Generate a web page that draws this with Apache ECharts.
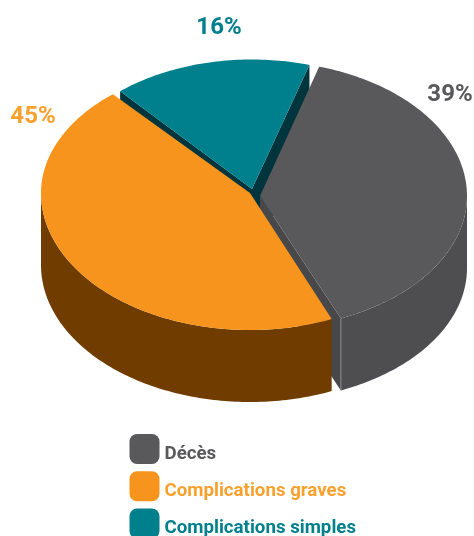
<!DOCTYPE html>
<html>
<head>
<meta charset="utf-8">
<style>html,body{margin:0;padding:0;background:#fff}#chart{width:474px;height:536px}</style>
<script src="https://cdn.jsdelivr.net/npm/echarts@6/dist/echarts.min.js"></script>
</head>
<body>
<div id="chart"></div>
<script>
// Outcome shares, in percent, clockwise from the first slice.
const categories = ['Décès', 'Complications graves', 'Complications simples'];
const shares = [39, 45, 16];
const topColors = ['#59595b', '#f7941d', '#007f8c'];
const wallColors = ['#4e4e50', '#703c00', '#00353d'];
const labelColors = ['#59595b', '#f9a12f', '#007f8c'];

const START_DEG = 16.6;
const DEPTH = 72;

// Ellipse of each exploded slice (the far half is flatter than the near half)
// and where its percentage sits.
const geometry = {
  'Décès':                 { cx: 260, cy: 196, rx: 207, ryFar: 135, ryNear: 133, lx: 450, ly: 95,  faces: ['end'] },
  'Complications graves':  { cx: 250, cy: 193, rx: 209, ryFar: 131, ryNear: 137, lx: 33,  ly: 117, faces: [] },
  'Complications simples': { cx: 252, cy: 189, rx: 201, ryFar: 129.5, ryNear: 129.5, lx: 219, ly: 28, faces: ['start', 'end'] }
};

function arcPoint(g, deg, drop) {
  const t = deg * Math.PI / 180;
  const c = Math.cos(t);
  return [g.cx + g.rx * Math.sin(t), g.cy - (c > 0 ? g.ryFar : g.ryNear) * c + (drop || 0)];
}

function arcPoints(g, from, to, drop) {
  const pts = [];
  const n = Math.max(2, Math.ceil(Math.abs(to - from)));
  for (let i = 0; i <= n; i++) pts.push(arcPoint(g, from + (to - from) * i / n, drop));
  return pts;
}

// Angular range of each slice, derived from the shares.
const total = shares.reduce(function (a, b) { return a + b; }, 0);
const ranges = [];
shares.reduce(function (acc, v) {
  const span = v / total * 360;
  ranges.push([acc, acc + span]);
  return acc + span;
}, START_DEG);

function drawSlice(index) {
  return function () {
    const name = categories[index];
    const g = geometry[name];
    const from = ranges[index][0], to = ranges[index][1];
    const children = [];
    const wall = { fill: wallColors[index] };

    // Radial cut faces, seen through the gaps between slices.
    g.faces.forEach(function (f) {
      const p = arcPoint(g, f === 'start' ? from : to);
      children.push({
        type: 'polygon',
        shape: { points: [[g.cx, g.cy], p, [p[0], p[1] + DEPTH], [g.cx, g.cy + DEPTH]] },
        style: index === 0 ? { fill: '#48484a' } : wall
      });
    });

    // Outer rim: only the front half of the ellipse faces the viewer.
    [[90, 270], [450, 630]].forEach(function (front) {
      const a = Math.max(from, front[0]), b = Math.min(to, front[1]);
      if (a < b) {
        const upper = arcPoints(g, a, b, 0);
        const lower = arcPoints(g, b, a, DEPTH);
        children.push({ type: 'polygon', shape: { points: upper.concat(lower) }, style: wall });
      }
    });

    // Pale ridge down the leading corner of the grey rim.
    if (index === 0) {
      const p = arcPoint(g, to);
      children.push({
        type: 'line',
        shape: { x1: p[0], y1: p[1], x2: p[0], y2: p[1] + DEPTH },
        style: { stroke: '#8a8a8c', lineWidth: 1 }
      });
    }

    // Top face.
    children.push({
      type: 'polygon',
      shape: { points: [[g.cx, g.cy]].concat(arcPoints(g, from, to, 0)) },
      style: { fill: topColors[index] }
    });

    // Percentage label.
    children.push({
      type: 'text',
      x: g.lx, y: g.ly,
      style: {
        text: shares[index] + '%',
        fill: labelColors[index],
        font: '700 24px Roboto',
        align: 'center',
        verticalAlign: 'middle'
      }
    });

    return { type: 'group', children: children };
  };
}

// Painted back to front: teal, then grey, then orange.
const paintOrder = [2, 0, 1];

// Rich-text style per legend entry; the top padding nudges the text below the swatch centre.
const legendRich = {};
categories.forEach(function (name, i) {
  legendRich['c' + i] = {
    color: labelColors[i],
    fontFamily: 'Roboto',
    fontWeight: 700,
    fontSize: 18.7,
    padding: [10, 0, 0, 0]
  };
});

const chart = echarts.init(document.getElementById('chart'));
chart.setOption({
  animation: false,
  legend: {
    left: 129.5,
    top: 434,
    height: 200,
    padding: 0,
    orient: 'vertical',
    icon: 'roundRect',
    itemWidth: 30,
    itemHeight: 30,
    itemGap: 7.3,
    selectedMode: false,
    data: categories,
    formatter: function (name) {
      return '{c' + categories.indexOf(name) + '|' + name + '}';
    },
    textStyle: { rich: legendRich }
  },
  series: paintOrder.map(function (i) {
    return {
      type: 'custom',
      name: categories[i],
      coordinateSystem: 'none',
      silent: true,
      z: 2,
      itemStyle: { color: topColors[i] },
      data: [shares[i]],
      renderItem: drawSlice(i)
    };
  })
});
</script>
</body>
</html>
